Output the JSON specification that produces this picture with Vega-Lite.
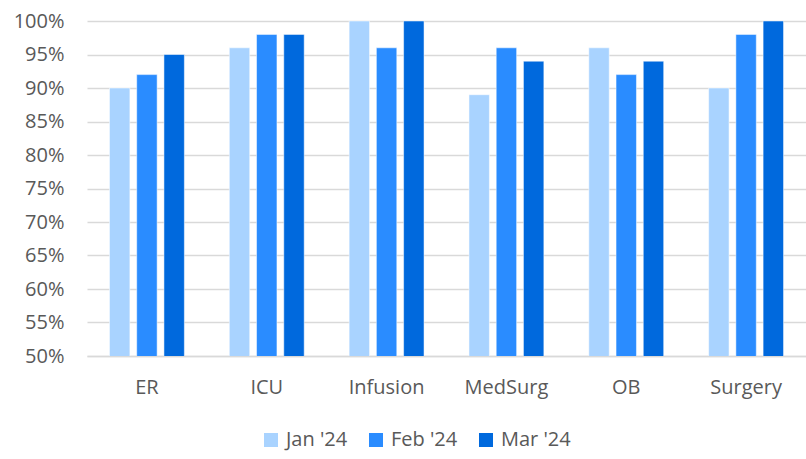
{
  "$schema": "https://vega.github.io/schema/vega-lite/v6.json",
  "width": 719,
  "height": 335,
  "autosize": {"type": "none"},
  "padding": {"left": 87, "top": 21, "right": 0, "bottom": 103},
  "background": "white",
  "config": {
    "view": {"stroke": null},
    "font": "Open Sans",
    "axis": {"labelFont": "Open Sans", "labelColor": "#595959", "labelFontSize": 20},
    "legend": {"labelFont": "Open Sans", "labelColor": "#595959", "labelFontSize": 20}
  },
  "data": {
    "values": [
      {"unit": "ER", "month": "Jan '24", "value": 0.90},
      {"unit": "ER", "month": "Feb '24", "value": 0.92},
      {"unit": "ER", "month": "Mar '24", "value": 0.95},
      {"unit": "ICU", "month": "Jan '24", "value": 0.96},
      {"unit": "ICU", "month": "Feb '24", "value": 0.98},
      {"unit": "ICU", "month": "Mar '24", "value": 0.98},
      {"unit": "Infusion", "month": "Jan '24", "value": 1.00},
      {"unit": "Infusion", "month": "Feb '24", "value": 0.96},
      {"unit": "Infusion", "month": "Mar '24", "value": 1.00},
      {"unit": "MedSurg", "month": "Jan '24", "value": 0.89},
      {"unit": "MedSurg", "month": "Feb '24", "value": 0.96},
      {"unit": "MedSurg", "month": "Mar '24", "value": 0.94},
      {"unit": "OB", "month": "Jan '24", "value": 0.96},
      {"unit": "OB", "month": "Feb '24", "value": 0.92},
      {"unit": "OB", "month": "Mar '24", "value": 0.94},
      {"unit": "Surgery", "month": "Jan '24", "value": 0.90},
      {"unit": "Surgery", "month": "Feb '24", "value": 0.98},
      {"unit": "Surgery", "month": "Mar '24", "value": 1.00}
    ]
  },
  "mark": {"type": "bar", "stroke": "white", "strokeWidth": 0.5, "clip": true},
  "encoding": {
    "x": {
      "field": "unit", "type": "nominal", "sort": null,
      "scale": {"paddingInner": 0.375, "paddingOuter": 0.1875},
      "axis": {"title": null, "labelAngle": 0, "ticks": false, "domain": true, "domainColor": "#d9d9d9", "domainWidth": 1.5, "labelPadding": 21}
    },
    "xOffset": {
      "field": "month", "type": "nominal", "sort": null,
      "scale": {"paddingInner": 0.25, "paddingOuter": 0}
    },
    "y": {
      "field": "value", "type": "quantitative",
      "scale": {"domain": [0.5, 1.0], "zero": false, "nice": false},
      "axis": {"title": null, "format": ".0%", "values": [0.5, 0.55, 0.6, 0.65, 0.7, 0.75, 0.8, 0.85, 0.9, 0.95, 1.0], "ticks": false, "domain": false, "gridColor": "#d9d9d9", "gridWidth": 1.5, "labelPadding": 23}
    },
    "color": {
      "field": "month", "type": "nominal", "sort": null,
      "scale": {"domain": ["Jan '24", "Feb '24", "Mar '24"], "range": ["#a9d3ff", "#2a8cff", "#0069dd"]},
      "legend": {"title": null, "orient": "none", "direction": "horizontal", "legendX": 174, "legendY": 409, "symbolType": "square", "symbolSize": 196, "symbolStrokeWidth": 0, "columnPadding": 18, "labelOffset": 5}
    }
  }
}
